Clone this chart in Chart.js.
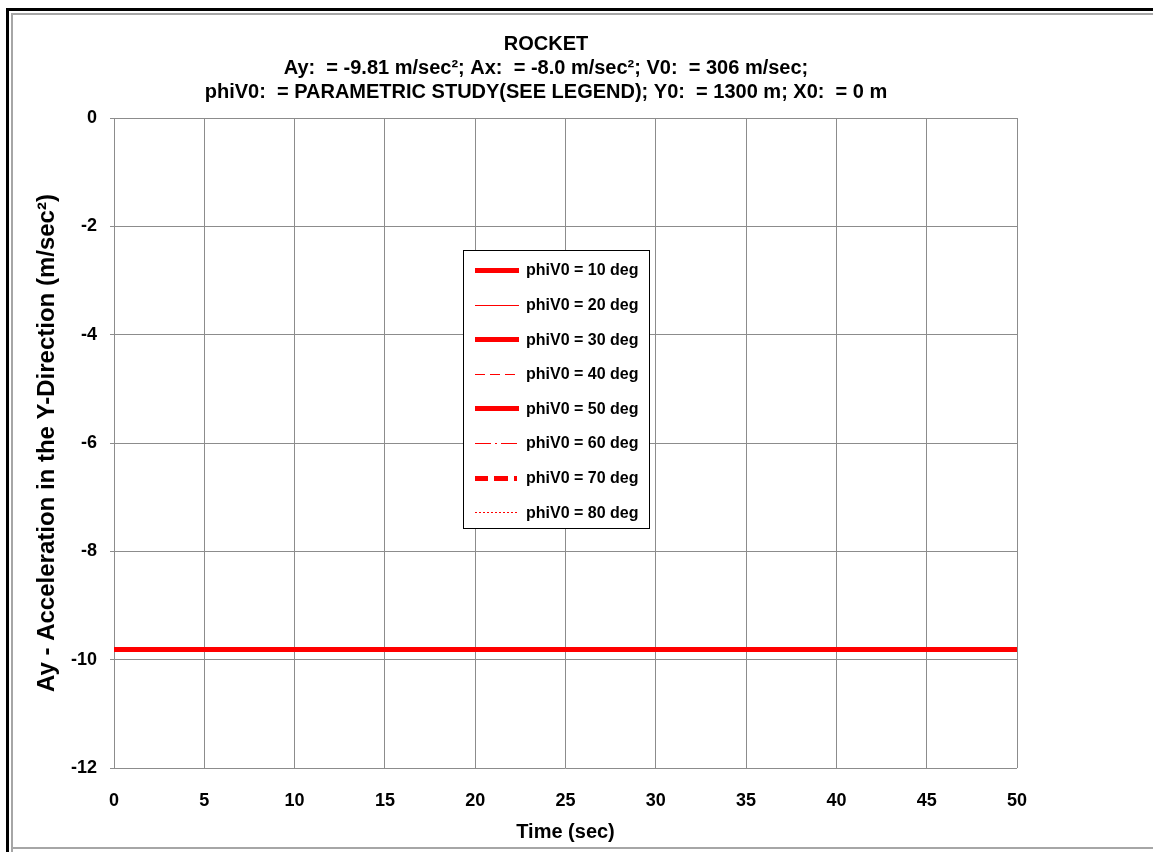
<!DOCTYPE html>
<html lang="en">
<head>
  <meta charset="UTF-8" />
  <title>Rocket - Ay vs Time</title>
  <script src="https://cdn.jsdelivr.net/npm/chart.js"></script>
  <style>
    * {
      margin: 0;
      padding: 0;
      box-sizing: border-box;
    }

    body {
      background-color: #fff;
    }

    .chart-box {
      width: 1153px;
      height: 852px;
      position: relative;
    }
  </style>
</head>
<body>

  <div class="chart-box">
    <canvas id="ayChart"></canvas>
  </div>

  <script>
    // time samples (sec)
    const times = [0, 5, 10, 15, 20, 25, 30, 35, 40, 45, 50];

    // Ay is constant for every launch angle
    const ay10 = [-9.81, -9.81, -9.81, -9.81, -9.81, -9.81, -9.81, -9.81, -9.81, -9.81, -9.81];
    const ay20 = [-9.81, -9.81, -9.81, -9.81, -9.81, -9.81, -9.81, -9.81, -9.81, -9.81, -9.81];
    const ay30 = [-9.81, -9.81, -9.81, -9.81, -9.81, -9.81, -9.81, -9.81, -9.81, -9.81, -9.81];
    const ay40 = [-9.81, -9.81, -9.81, -9.81, -9.81, -9.81, -9.81, -9.81, -9.81, -9.81, -9.81];
    const ay50 = [-9.81, -9.81, -9.81, -9.81, -9.81, -9.81, -9.81, -9.81, -9.81, -9.81, -9.81];
    const ay60 = [-9.81, -9.81, -9.81, -9.81, -9.81, -9.81, -9.81, -9.81, -9.81, -9.81, -9.81];
    const ay70 = [-9.81, -9.81, -9.81, -9.81, -9.81, -9.81, -9.81, -9.81, -9.81, -9.81, -9.81];
    const ay80 = [-9.81, -9.81, -9.81, -9.81, -9.81, -9.81, -9.81, -9.81, -9.81, -9.81, -9.81];

    const seriesNames = ['phiV0 = 10 deg', 'phiV0 = 20 deg', 'phiV0 = 30 deg', 'phiV0 = 40 deg',
                         'phiV0 = 50 deg', 'phiV0 = 60 deg', 'phiV0 = 70 deg', 'phiV0 = 80 deg'];

    const xTicks = [0, 5, 10, 15, 20, 25, 30, 35, 40, 45, 50];
    const yTicks = [0, -2, -4, -6, -8, -10, -12];

    const titleLines = [
      'ROCKET',
      'Ay:  = -9.81 m/sec²; Ax:  = -8.0 m/sec²; V0:  = 306 m/sec;',
      'phiV0:  = PARAMETRIC STUDY(SEE LEGEND); Y0:  = 1300 m; X0:  = 0 m'
    ];

    const red = '#ff0000';
    const gridGray = '#8c8c8c';
    const fontFam = '"Liberation Sans", Arial, sans-serif';

    function pts(vals) {
      return vals.map((v, i) => ({ x: times[i], y: v }));
    }

    function series(name, vals, width, dash) {
      return {
        label: name,
        data: pts(vals),
        borderColor: red,
        backgroundColor: red,
        borderWidth: width,
        borderDash: dash,
        pointRadius: 0,
        fill: false,
        tension: 0
      };
    }

    // frame + title
    const framePlugin = {
      id: 'frame',
      beforeDraw(chart) {
        const c = chart.ctx;
        c.save();
        c.fillStyle = '#fff';
        c.fillRect(0, 0, chart.width, chart.height);
        c.fillStyle = '#000';
        c.fillRect(6, 8, chart.width, 3);
        c.fillRect(6, 8, 3, chart.height);
        c.fillStyle = '#a6a6a6';
        c.fillRect(11, 13, chart.width, 2);
        c.fillRect(11, 13, 2, chart.height);
        c.fillRect(11, 847, chart.width, 2);
        c.restore();
      },
      afterDraw(chart) {
        const c = chart.ctx;
        c.save();
        c.fillStyle = '#000';
        c.font = 'bold 20px ' + fontFam;
        c.textAlign = 'center';
        c.textBaseline = 'middle';
        titleLines.forEach((t, i) => c.fillText(t, 546, 44 + i * 24));
        c.restore();
      }
    };

    // legend box in the middle of the plot
    const boxLegend = {
      id: 'boxLegend',
      afterDatasetsDraw(chart) {
        const c = chart.ctx;
        const x0 = 463, y0 = 250, w = 186, h = 278;
        c.save();
        c.fillStyle = '#fff';
        c.fillRect(x0, y0, w, h);
        c.strokeStyle = '#000';
        c.lineWidth = 1;
        c.strokeRect(x0 + 0.5, y0 + 0.5, w, h);
        c.font = 'bold 16px ' + fontFam;
        c.textBaseline = 'middle';
        chart.data.datasets.forEach((ds, i) => {
          const y = 270 + i * 34.6;
          const ly = Math.round(y) + (ds.borderWidth % 2 ? 0.5 : 0);
          c.strokeStyle = ds.borderColor;
          c.lineWidth = ds.borderWidth;
          c.setLineDash(ds.borderDash || []);
          c.beginPath();
          c.moveTo(475, ly);
          c.lineTo(519, ly);
          c.stroke();
          c.setLineDash([]);
          c.fillStyle = '#000';
          c.fillText(ds.label, 526, y + 1);
        });
        c.restore();
      }
    };

    const ctx = document.getElementById('ayChart').getContext('2d');

    const ayChart = new Chart(ctx, {
      type: 'line',
      data: {
        datasets: [
          series(seriesNames[0], ay10, 5, []),
          series(seriesNames[1], ay20, 1, []),
          series(seriesNames[2], ay30, 5, []),
          series(seriesNames[3], ay40, 1, [10, 5]),
          series(seriesNames[4], ay50, 5, []),
          series(seriesNames[5], ay60, 1, [16, 4, 2, 4]),
          series(seriesNames[6], ay70, 5, [13, 6, 14, 6, 3, 6]),
          series(seriesNames[7], ay80, 1, [2, 2])
        ]
      },
      options: {
        responsive: true,
        maintainAspectRatio: false,
        animation: false,
        layout: {
          padding: { left: 14, right: 136, top: 118, bottom: 0 }
        },
        plugins: {
          legend: { display: false },
          title: { display: false },
          tooltip: { enabled: false }
        },
        scales: {
          x: {
            type: 'linear',
            min: 0,
            max: 50,
            afterFit(scale) { scale.height = 84; },
            afterBuildTicks(scale) { scale.ticks = xTicks.map(v => ({ value: v })); },
            grid: { color: gridGray, lineWidth: 1, drawTicks: false },
            border: { display: false },
            ticks: {
              color: '#000',
              padding: 22,
              maxRotation: 0,
              font: { family: fontFam, size: 18, weight: 'bold' }
            },
            title: {
              display: true,
              text: 'Time (sec)',
              color: '#000',
              padding: { top: 0, bottom: 8 },
              font: { family: fontFam, size: 20, weight: 'bold' }
            }
          },
          y: {
            min: -12,
            max: 0,
            afterFit(scale) { scale.width = 100; },
            afterBuildTicks(scale) { scale.ticks = yTicks.map(v => ({ value: v })); },
            grid: { color: gridGray, lineWidth: 1, tickLength: 4 },
            border: { display: false },
            ticks: {
              color: '#000',
              padding: 13,
              font: { family: fontFam, size: 18, weight: 'bold' }
            },
            title: {
              display: true,
              text: 'Ay - Acceleration in the Y-Direction (m/sec²)',
              color: '#000',
              padding: { top: 19, bottom: 0 },
              font: { family: fontFam, size: 24, weight: 'bold' }
            }
          }
        }
      },
      plugins: [framePlugin, boxLegend]
    });
  </script>

</body>
</html>
